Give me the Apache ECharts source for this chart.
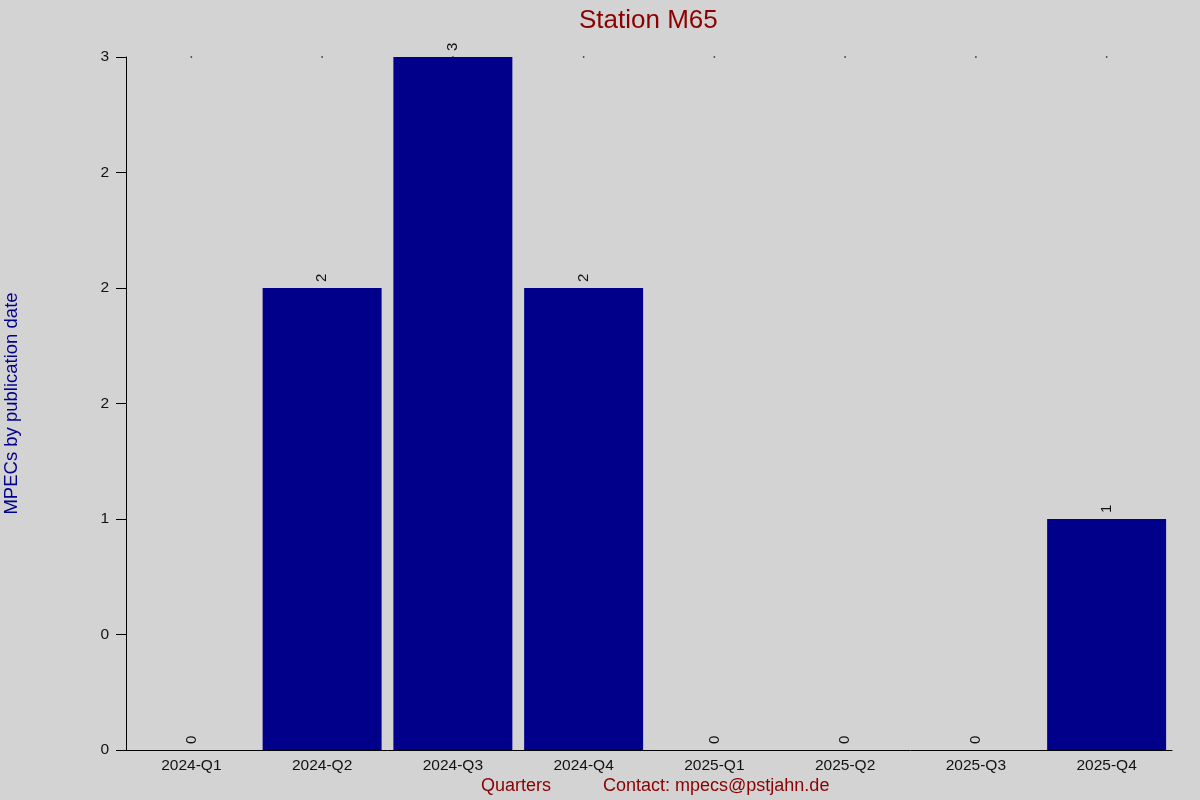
<!DOCTYPE html>
<html>
<head>
<meta charset="utf-8">
<script src="https://cdn.jsdelivr.net/npm/echarts@6/dist/echarts.min.js"></script>
<style>
html,body{margin:0;padding:0;background:#d3d3d3;}
#chart{width:1200px;height:800px;}
</style>
</head>
<body>
<div id="chart"></div>
<script>
const categories = ["2024-Q1","2024-Q2","2024-Q3","2024-Q4","2025-Q1","2025-Q2","2025-Q3","2025-Q4"];
const mpecCounts = [0, 2, 3, 2, 0, 0, 0, 1];
const topMarkers = [3, 3, 3, 3, 3, 3, 3, 3];
const yTickLabels = ["0","0","1","2","2","2","3"];

const chart = echarts.init(document.getElementById('chart'));
chart.setOption({
  backgroundColor: '#d3d3d3',
  animation: false,
  textStyle: { fontFamily: 'Liberation Sans, Arial, sans-serif' },
  title: {
    text: 'Station M65',
    left: 574, top: 3,
    textStyle: { color: '#8b0000', fontSize: 26, fontWeight: 'normal', fontFamily: 'Liberation Sans, Arial, sans-serif' }
  },
  grid: { left: 126, right: 28, top: 57, bottom: 50, containLabel: false, outerBoundsMode: 'none' },
  xAxis: {
    type: 'category',
    data: categories,
    axisLine: { show: true, lineStyle: { color: '#000', width: 1 } },
    axisTick: { show: false },
    axisLabel: { color: '#111', fontSize: 15.5, margin: 8, interval: 0 },
    splitLine: { show: false }
  },
  yAxis: {
    type: 'value',
    min: 0, max: 3, interval: 0.5,
    name: 'MPECs by publication date',
    nameLocation: 'middle',
    nameGap: 105,
    nameTextStyle: { color: '#00008b', fontSize: 18.5 },
    axisLine: { show: true, lineStyle: { color: '#000', width: 1 } },
    axisTick: { show: true, length: 10, lineStyle: { color: '#000' } },
    axisLabel: {
      color: '#111', fontSize: 15.5, margin: 17,
      formatter: function (v) { return yTickLabels[Math.round(v / 0.5)]; }
    },
    splitLine: { show: false }
  },
  series: [
    {
      type: 'bar',
      data: mpecCounts,
      barCategoryGap: '9%',
      itemStyle: { color: '#00008b' },
      label: {
        show: true,
        position: 'top',
        rotate: 90,
        align: 'left',
        verticalAlign: 'middle',
        distance: 6,
        color: '#111',
        fontSize: 15
      },
      z: 3
    },
    {
      type: 'scatter',
      data: topMarkers,
      symbol: 'rect',
      symbolSize: 1.5,
      itemStyle: { color: '#000' },
      silent: true,
      z: 2
    }
  ],
  graphic: [
    { type: 'text', left: 481, top: 777, style: { text: 'Quarters', fill: '#8b0000', fontSize: 18, fontFamily: 'Liberation Sans, Arial, sans-serif' } },
    { type: 'text', left: 603, top: 777, style: { text: 'Contact: mpecs@pstjahn.de', fill: '#8b0000', fontSize: 18, fontFamily: 'Liberation Sans, Arial, sans-serif' } }
  ]
});
</script>
</body>
</html>
